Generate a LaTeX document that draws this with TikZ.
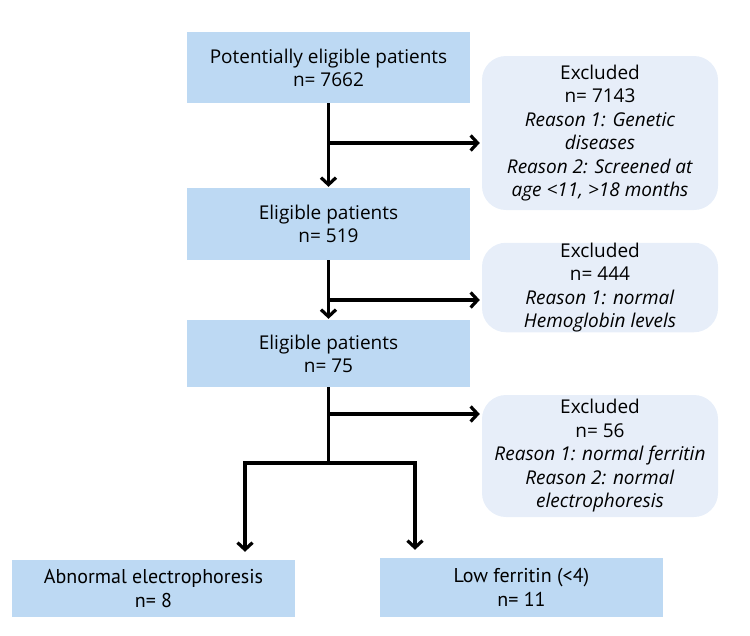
\documentclass[tikz,border=0pt]{standalone}
\usepackage{fontspec}
\setmainfont{Open Sans}
\newfontfamily\narrowfont{PT Sans}
\usetikzlibrary{arrows.meta}
\definecolor{stepblue}{RGB}{189,217,243}
\definecolor{exclblue}{RGB}{231,238,249}

\begin{document}
\begin{tikzpicture}[x=1pt, y=-1pt,
  mainbox/.style={fill=stepblue, minimum width=283pt, inner sep=0pt, align=center,
    font=\fontsize{19}{23}\selectfont},
  exclbox/.style={fill=exclblue, rounded corners=24pt, minimum width=236pt, inner sep=0pt,
    align=center, font=\fontsize{19}{23.5}\selectfont},
  endbox/.style={mainbox, font=\narrowfont\fontsize{20}{23.5}\selectfont},
  flow/.style={line width=3.2pt},
  arr/.style={flow, -{Straight Barb[length=7pt, width=15pt]}}]
  \useasboundingbox (0,0) rectangle (750,635);

  % screening steps
  \node[mainbox, minimum height=71pt] (potential) at (328.5,67.5)
    {Potentially eligible patients\\n= 7662};
  \node[mainbox, minimum height=72pt] (eligA) at (328.5,224)
    {Eligible patients\\n= 519};
  \node[mainbox, minimum height=67pt] (eligB) at (328.5,353.5)
    {Eligible patients\\n= 75};

  % exclusions
  \node[exclbox, minimum height=154pt] (exclA) at (600,133)
    {Excluded\\n= 7143\\\textit{Reason 1: Genetic}\\\textit{diseases}\\
     \textit{Reason 2: Screened at}\\\textit{age <11, >18 months}};
  \node[exclbox, minimum height=79pt] (exclB) at (600,287.5)
    {Excluded\\n= 444\\\textit{Reason 1: normal}\\\textit{Hemoglobin levels}};
  \node[exclbox, minimum height=122pt] (exclC) at (600,456)
    {Excluded\\n= 56\\\textit{Reason 1: normal ferritin}\\
     \textit{Reason 2: normal}\\\textit{electrophoresis}};

  % outcomes
  \node[endbox, minimum height=57pt] (abnormal) at (153.5,588.5)
    {Abnormal electrophoresis\\n= 8};
  \node[endbox, minimum height=59pt] (lowferr) at (521.5,587.5)
    {Low ferritin (<4)\\n= 11};

  % branch points
  \coordinate (forkA) at (328.5,143);
  \coordinate (forkB) at (328.5,300);
  \coordinate (forkC) at (328.5,414);
  \coordinate (split) at (328.5,463);
  \coordinate (splitL) at (245,463);
  \coordinate (splitR) at (415,463);

  \draw[arr, shorten >=1pt] (potential.south) -- (eligA.north);
  \draw[arr, shorten >=2pt] (forkA) -- (forkA -| exclA.west);
  \draw[arr, shorten >=1pt] (eligA.south) -- (eligB.north);
  \draw[arr, shorten >=2pt] (forkB) -- (forkB -| exclB.west);
  \draw[flow] (eligB.south) -- (split);
  \draw[arr, shorten >=2pt] (forkC) -- (forkC -| exclC.west);
  \draw[flow, line cap=rect] (splitL) -- (splitR);
  \draw[arr, shorten >=8pt] (splitL) -- (splitL |- abnormal.north);
  \draw[arr, shorten >=8pt] (splitR) -- (splitR |- lowferr.north);
\end{tikzpicture}
\end{document}
